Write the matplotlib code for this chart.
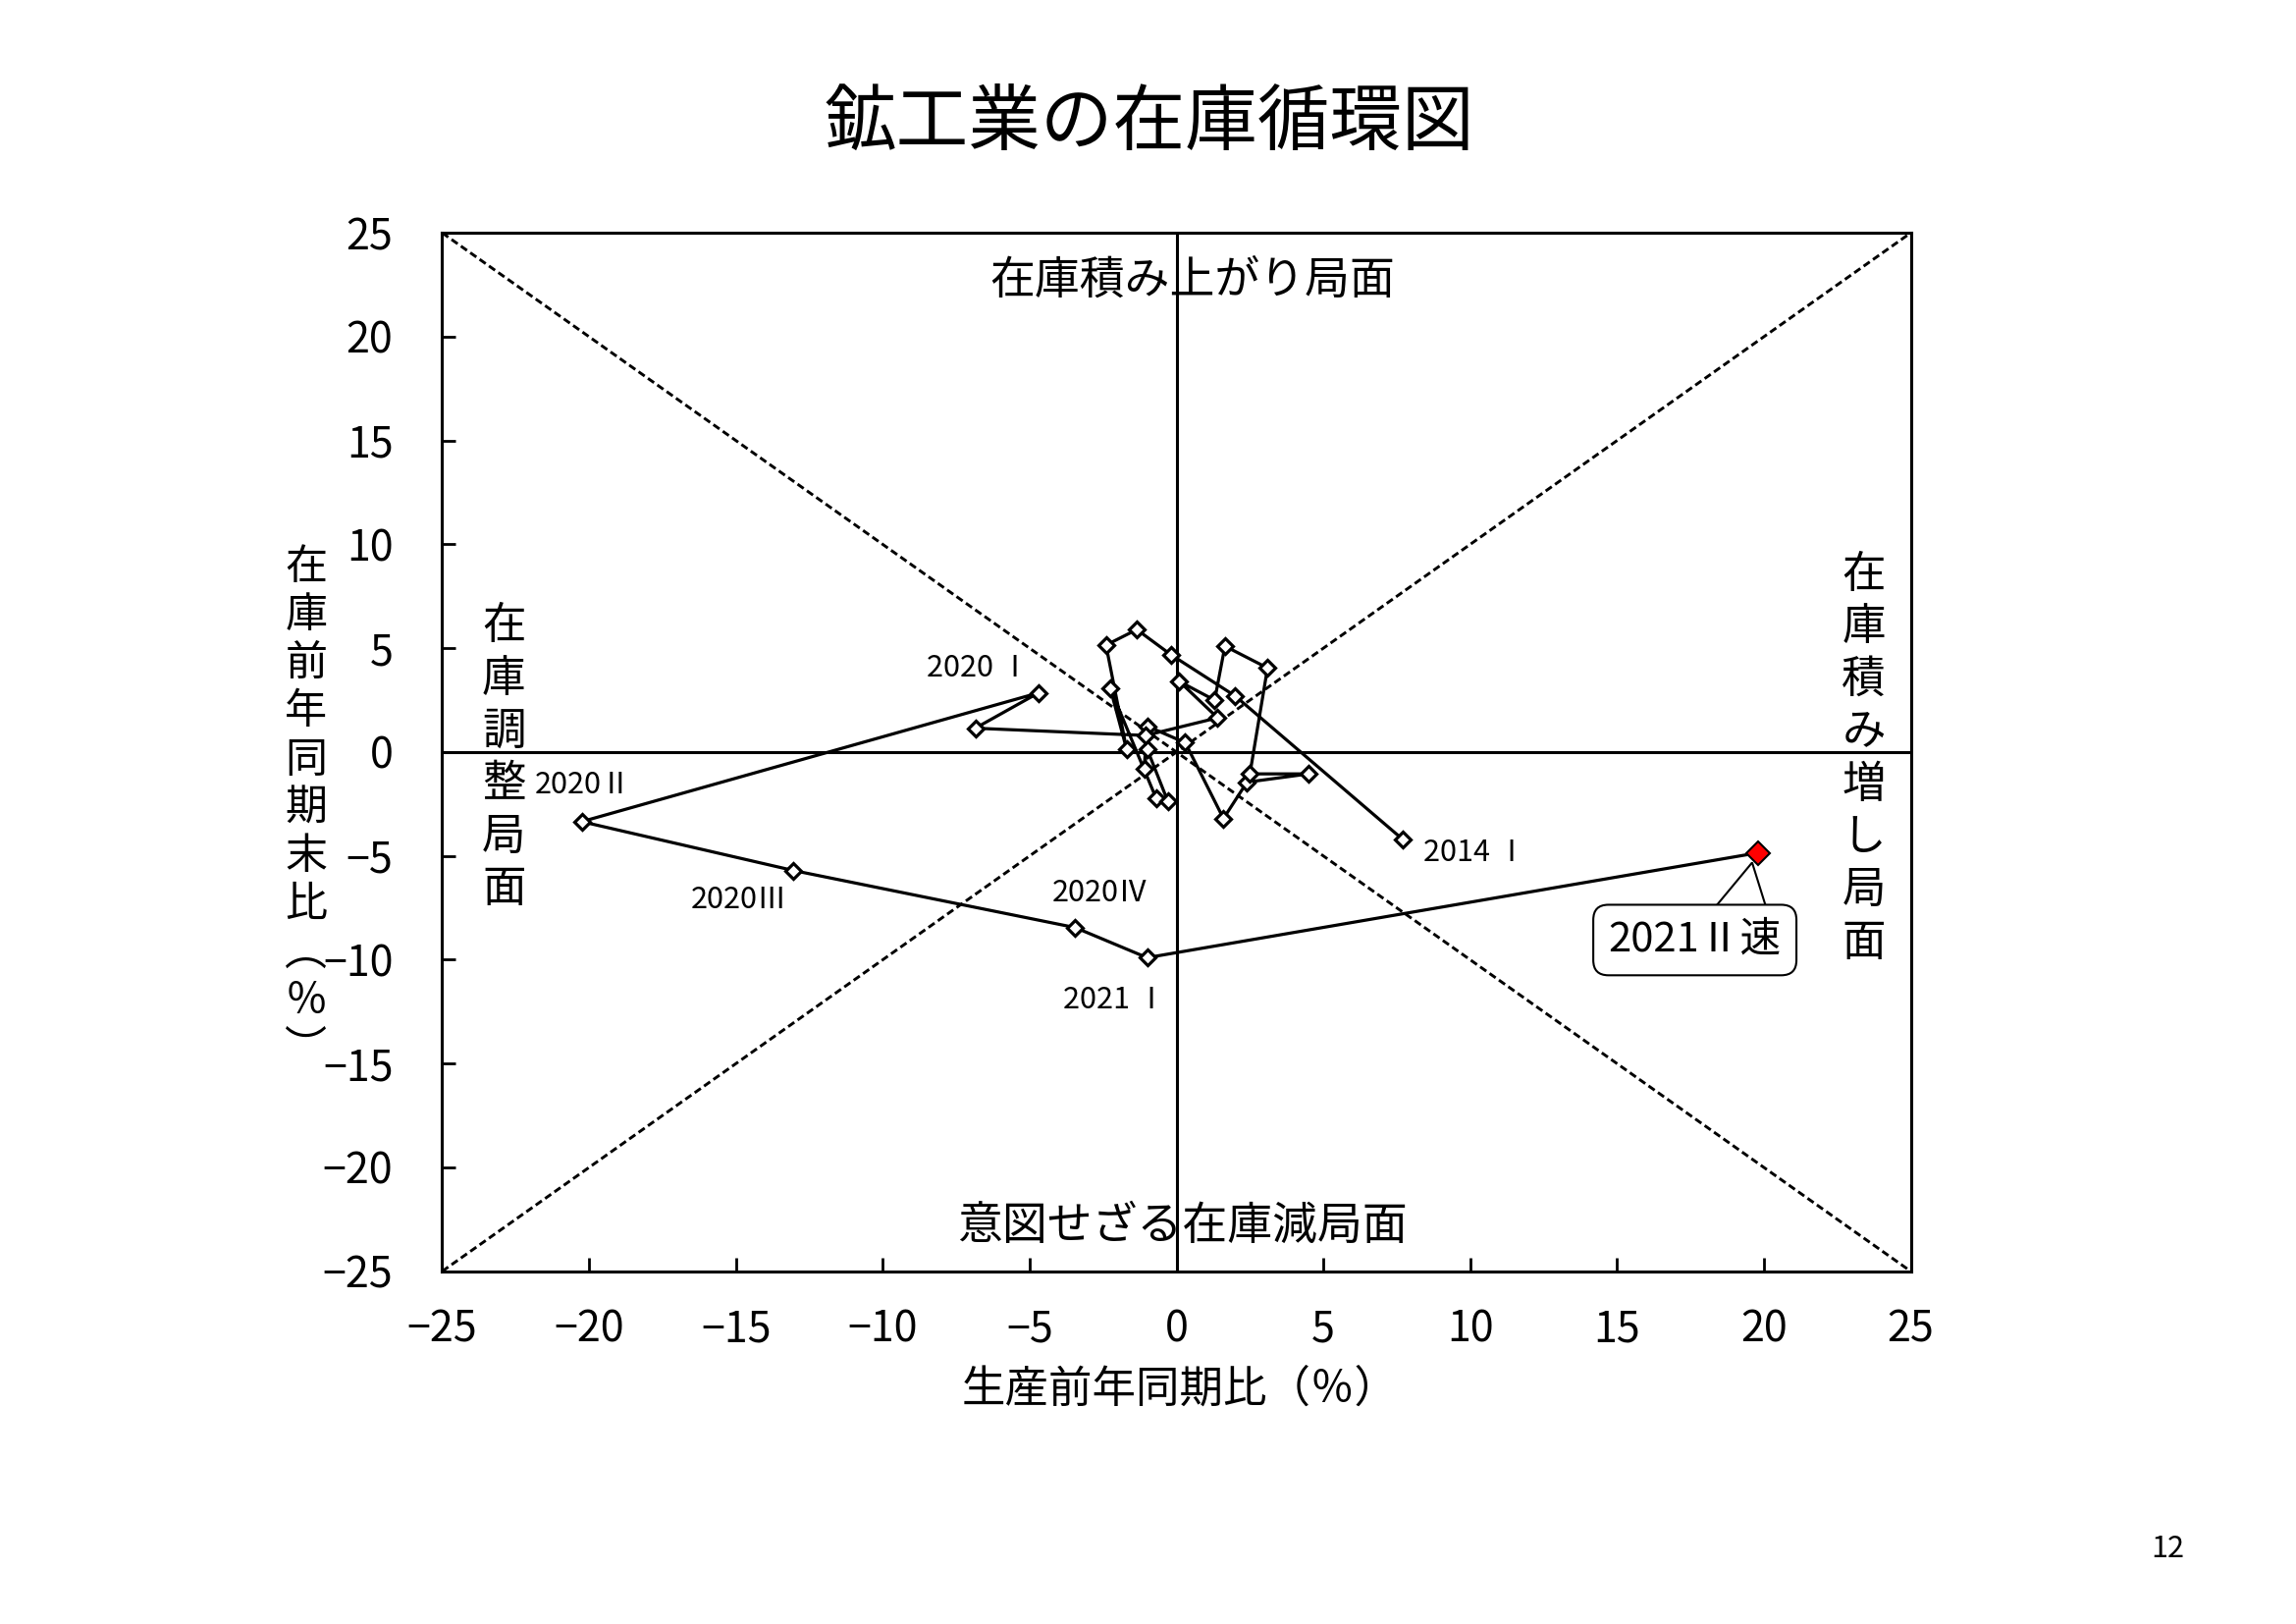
import matplotlib
matplotlib.use("Agg")
import matplotlib.pyplot as plt
from matplotlib.patches import Polygon

plt.rcParams['font.family'] = ['Noto Sans CJK JP', 'DejaVu Sans']

# 生産前年同期比 / 在庫前年同期末比 (2014 I - 2021 II)
quarters = ["2014I", "2014II", "2014III", "2014IV",
            "2015I", "2015II", "2015III", "2015IV",
            "2016I", "2016II", "2016III", "2016IV",
            "2017I", "2017II", "2017III", "2017IV",
            "2018I", "2018II", "2018III", "2018IV",
            "2019I", "2019II", "2019III", "2019IV",
            "2020I", "2020II", "2020III", "2020IV",
            "2021I", "2021II"]
production = [7.7, 2.0, -0.2, -1.35,
              -2.4, -1.7, -2.25, -0.7,
              -0.3, -1.0, -1.1, -1.0,
              0.3, 1.6, 2.4, 4.5,
              2.5, 3.1, 1.65, 1.3,
              0.1, 1.4, -1.05, -6.85,
              -4.7, -20.25, -13.05, -3.45,
              -1.0, 19.8]
inventory = [-4.2, 2.7, 4.7, 5.9,
             5.15, 0.15, 3.05, -2.2,
             -2.35, 0.15, -0.8, 1.25,
             0.45, -3.2, -1.45, -1.05,
             -1.05, 4.05, 5.1, 2.5,
             3.4, 1.65, 0.8, 1.15,
             2.85, -3.35, -5.7, -8.45,
             -9.9, -4.85]

point_labels = {"2014I": ("2014 Ⅰ", 10.15, -4.85),
                "2020I": ("2020 Ⅰ", -6.75, 4.05),
                "2020II": ("2020Ⅱ", -20.2, -1.6),
                "2020III": ("2020Ⅲ", -14.9, -7.1),
                "2020IV": ("2020Ⅳ", -2.6, -6.8),
                "2021I": ("2021 Ⅰ", -2.1, -11.95)}

fig = plt.figure(figsize=(23.39, 16.54), dpi=100)
ax = fig.add_axes([0.1926, 0.2172, 0.6396, 0.6394])
ax.set_xlim(-25, 25)
ax.set_ylim(-25, 25)

# diagonals and axes
ax.plot([-25, 25], [-25, 25], color='black', lw=2.1, ls=(0, (2.6, 1.4)))
ax.plot([-25, 25], [25, -25], color='black', lw=2.1, ls=(0, (2.6, 1.4)))
ax.axhline(0, color='black', lw=2.2)
ax.axvline(0, color='black', lw=2.2)

ax.plot(production, inventory, color='black', lw=2.3,
        marker='D', markersize=8.3, markerfacecolor='white',
        markeredgecolor='black', markeredgewidth=2.3, zorder=3)
ax.plot(production[-1], inventory[-1], marker='D', markersize=12,
        markerfacecolor='#ff0000', markeredgecolor='black',
        markeredgewidth=1.5, zorder=4)

for q, (txt, lx, ly) in point_labels.items():
    ax.text(lx, ly, txt, fontsize=22, ha='center', va='center')

# callout for the latest (preliminary) point
px, py = production[-1], inventory[-1]
pointer = Polygon([(px - 1.45, py - 2.6), (px - 0.2, py - 0.47), (px + 0.27, py - 2.6)],
                  closed=True, fc='white', ec='black', lw=1.5, zorder=5)
ax.add_patch(pointer)
ax.text(17.65, -9.05, "2021Ⅱ速", fontsize=30, ha='center', va='center', zorder=6,
        bbox=dict(boxstyle='round,pad=0.37', fc='white', ec='black', lw=1.5))

# phase labels
ax.text(0.55, 22.7, "在庫積み上がり局面", fontsize=33, ha='center', va='center')
ax.text(0.2, -22.8, "意図せざる在庫減局面", fontsize=33, ha='center', va='center')
ax.text(-22.9, -0.25, "\n".join("在庫調整局面"), fontsize=32,
        ha='center', va='center', linespacing=1.21)
ax.text(23.4, -0.3, "\n".join("在庫積み増し局面"), fontsize=32,
        ha='center', va='center', linespacing=1.21)

ax.set_xticks(range(-25, 26, 5))
ax.set_yticks(range(-25, 26, 5))
ax.tick_params(direction='in', length=10, width=2, labelsize=31)
ax.tick_params(axis='x', pad=27)
ax.tick_params(axis='y', pad=36)
for s in ax.spines.values():
    s.set_linewidth(2.2)

fig.text(0.5006, 0.923, "鉱工業の在庫循環図", fontsize=53, ha='center', va='center')
fig.text(0.514, 0.1445, "生産前年同期比（％）", fontsize=32, ha='center', va='center')
fig.text(0.1333, 0.502, "\n".join("在庫前年同期末比") + "\n︵\n％\n︶", fontsize=31,
         ha='center', va='center', linespacing=1.15)
fig.text(0.944, 0.046, "12", fontsize=22, ha='center', va='center')

fig.savefig("out.png", dpi=100)
